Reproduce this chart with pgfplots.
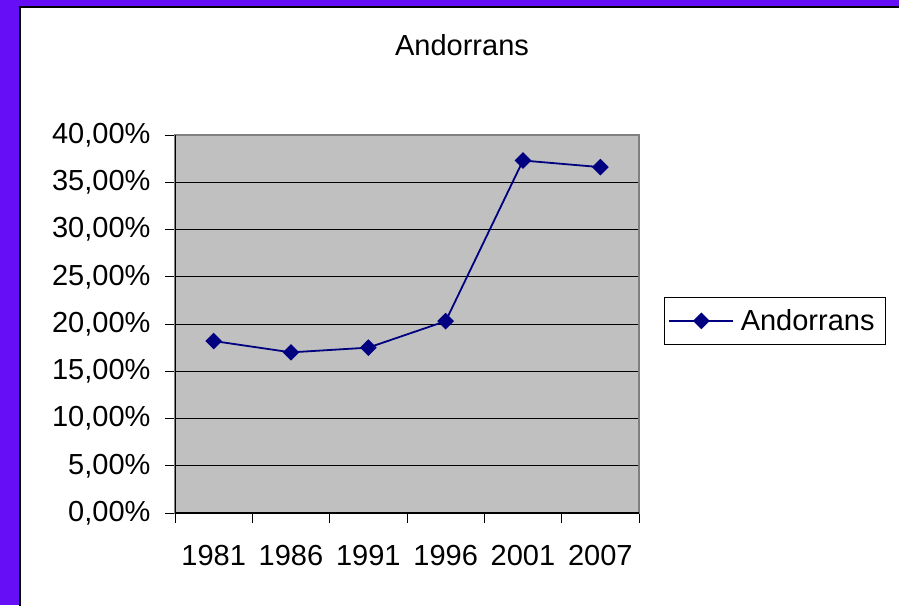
\documentclass[border=0pt]{standalone}
\usepackage{fontspec}
\setmainfont{Liberation Sans}
\usepackage{pgfplots}
\pgfplotsset{compat=1.18}
\definecolor{bgpurple}{RGB}{102,14,246}
\definecolor{plotgray}{RGB}{192,192,192}
\definecolor{navyline}{RGB}{0,0,128}
\definecolor{bordergray}{RGB}{128,128,128}
\begin{document}
\begin{tikzpicture}
\useasboundingbox (0pt,0pt) rectangle (899pt,-605pt);
\fill[bgpurple] (0pt,0pt) rectangle (899pt,-605pt);
\fill[white] (20pt,-7pt) rectangle (905pt,-610pt);
\draw[black,line width=1.5pt] (20pt,-610pt) -- (20pt,-7pt) -- (905pt,-7pt);
\node[font=\fontsize{29}{34}\selectfont] at (462pt,-45pt) {Andorrans};
\begin{axis}[
  at={(175pt,-513pt)}, anchor=south west,
  scale only axis, width=464pt, height=378pt,
  xmin=0.5, xmax=6.5, ymin=0, ymax=40,
  axis background/.style={fill=plotgray},
  axis line style={draw=bordergray, line width=1.2pt},
  xtick={1,...,6},
  xticklabels={1981,1986,1991,1996,2001,2007},
  major x tick style={draw=none},
  minor xtick={0.5,1.5,...,6.5},
  minor x tick style={black, line width=0.8pt},
  minor tick length=10pt,
  ytick={0,5,...,40},
  major y tick style={black, line width=0.8pt},
  major tick length=10pt,
  tick align=outside,
  tick pos=left,
  ymajorgrids,
  grid style={black, line width=0.8pt},
  yticklabel={\pgfmathprintnumber[fixed,fixed zerofill,precision=2,use comma]{\tick}\%},
  /pgf/number format/assume math mode=true,
  ticklabel style={font=\fontsize{29}{34}\selectfont},
  xticklabel style={yshift=-19pt},
  yticklabel style={xshift=-11pt},
  legend style={at={(1.054,0.571)}, anchor=north west, draw=black, line width=0.8pt,
    font=\fontsize{29}{34}\selectfont, inner xsep=4pt, inner ysep=10pt, cells={anchor=west},
    nodes={inner xsep=6.5pt}},
  legend image code/.code={\draw[#1,mark repeat=2,mark phase=2] plot coordinates {(0pt,0pt) (32pt,0pt) (64pt,0pt)};},
]
\addplot[navyline, line width=1.8pt, mark=square*, mark size=5pt, mark options={solid,fill=navyline,rotate=45}]
  coordinates {(1,18.2) (2,17.0) (3,17.5) (4,20.3) (5,37.3) (6,36.6)};
\addlegendentry{Andorrans}
\draw[black, line width=1.2pt] (rel axis cs:0,1) -- (rel axis cs:0,0) -- (rel axis cs:1,0);
\end{axis}
\end{tikzpicture}
\end{document}
